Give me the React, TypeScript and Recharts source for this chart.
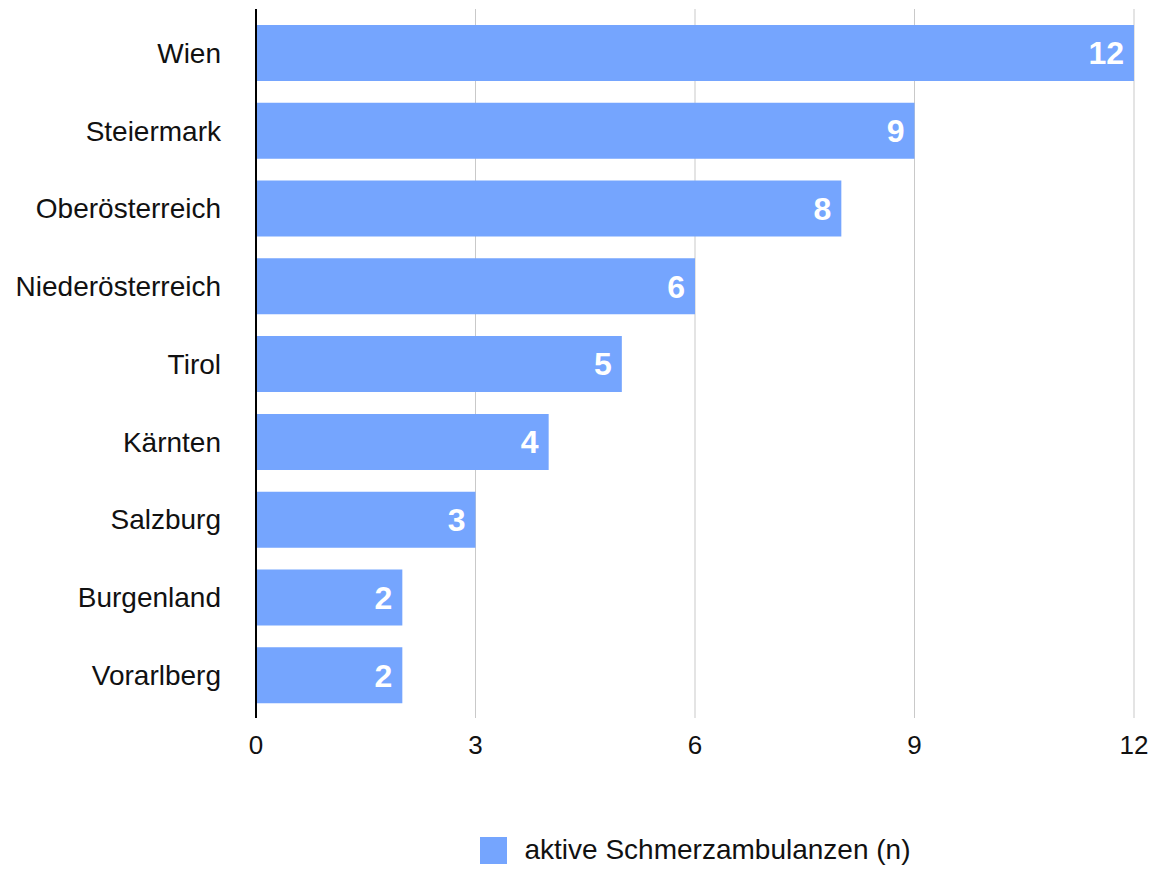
import React from 'react';
import { BarChart, Bar, XAxis, YAxis, CartesianGrid, Legend, LabelList } from 'recharts';

const regions = ['Wien', 'Steiermark', 'Oberösterreich', 'Niederösterreich', 'Tirol', 'Kärnten', 'Salzburg', 'Burgenland', 'Vorarlberg'];
const counts = [12, 9, 8, 6, 5, 4, 3, 2, 2];
const xTicks = [0, 3, 6, 9, 12];
const seriesName = 'aktive Schmerzambulanzen (n)';

const data = regions.map((r, i) => ({ region: r, value: counts[i] }));

const FONT = '"Liberation Sans", Arial, Helvetica, sans-serif';
const BAR = '#75A5FE';

const LegendContent = () => (
  <div style={{ display: 'flex', justifyContent: 'center', alignItems: 'center', fontFamily: FONT, fontSize: 28, color: '#111' }}>
    <span style={{ display: 'inline-block', width: 27, height: 27, background: BAR, marginRight: 18 }} />
    <span>{seriesName}</span>
  </div>
);

export default function App() {
  return (
    <div style={{ position: 'absolute', left: 0, top: 0, background: '#fff' }}>
      <BarChart
        width={1171}
        height={870}
        data={data}
        layout="vertical"
        margin={{ top: 9, right: 37, left: 0, bottom: 52 }}
        barSize={56}
      >
        <CartesianGrid horizontal={false} stroke="#c9c9c9" strokeWidth={1} />
        <XAxis
          type="number"
          domain={[0, 12]}
          ticks={xTicks}
          axisLine={false}
          tickLine={false}
          tickSize={0}
          tickMargin={18}
          height={60}
          tick={{ fill: '#111', fontSize: 26, fontFamily: FONT }}
        />
        <YAxis
          type="category"
          dataKey="region"
          width={256}
          padding={{ top: 5, bottom: 4 }}
          axisLine={{ stroke: '#000', strokeWidth: 2 }}
          tickLine={false}
          tickSize={0}
          tickMargin={35}
          tick={{ fill: '#111', fontSize: 28, fontFamily: FONT }}
        />
        <Legend verticalAlign="bottom" height={40} content={<LegendContent />} wrapperStyle={{ left: 256, width: 878, top: 834, bottom: 'auto' }} />
        <Bar dataKey="value" name={seriesName} fill={BAR} isAnimationActive={false}>
          <LabelList dataKey="value" position="insideRight" offset={10} fill="#fff" fontSize={32} fontWeight="bold" fontFamily={FONT} />
        </Bar>
      </BarChart>
    </div>
  );
}
